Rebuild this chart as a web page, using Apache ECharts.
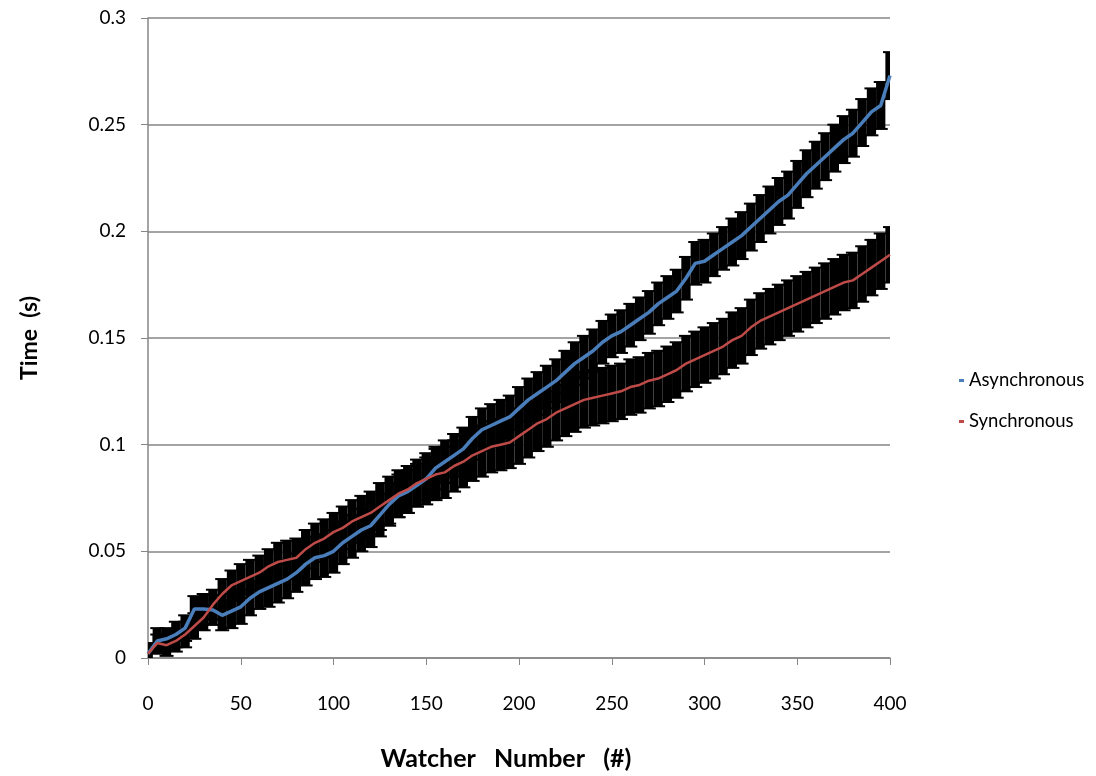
<!DOCTYPE html>
<html>
<head>
<meta charset="utf-8">
<script src="https://cdn.jsdelivr.net/npm/echarts@6/dist/echarts.min.js"></script>
<style>
  html, body { margin: 0; padding: 0; background: #fff; }
  #chart { width: 1096px; height: 776px; }
</style>
</head>
<body>
<div id="chart"></div>
<script>
// watcher numbers (x)
var watchers = [0, 5, 10, 15, 20, 25, 30, 35, 40, 45, 50, 55, 60, 65, 70, 75, 80, 85, 90, 95,
  100, 105, 110, 115, 120, 125, 130, 135, 140, 145, 150, 155, 160, 165, 170, 175, 180, 185, 190, 195,
  200, 205, 210, 215, 220, 225, 230, 235, 240, 245, 250, 255, 260, 265, 270, 275, 280, 285, 290, 295,
  300, 305, 310, 315, 320, 325, 330, 335, 340, 345, 350, 355, 360, 365, 370, 375, 380, 385, 390, 395, 400];

// Asynchronous mean time (s)
var asyncTime = [0.002, 0.008, 0.009, 0.011, 0.014, 0.023, 0.023, 0.0225, 0.020, 0.022,
  0.024, 0.028, 0.031, 0.033, 0.035, 0.037, 0.040, 0.044, 0.047, 0.048,
  0.050, 0.054, 0.057, 0.060, 0.062, 0.067, 0.072, 0.076, 0.078, 0.081,
  0.084, 0.089, 0.092, 0.095, 0.098, 0.103, 0.107, 0.109, 0.111, 0.113,
  0.117, 0.121, 0.124, 0.127, 0.130, 0.134, 0.138, 0.141, 0.144, 0.148,
  0.151, 0.153, 0.156, 0.159, 0.162, 0.166, 0.169, 0.172, 0.178, 0.185,
  0.186, 0.189, 0.192, 0.195, 0.198, 0.202, 0.206, 0.210, 0.214, 0.217,
  0.222, 0.227, 0.231, 0.235, 0.239, 0.243, 0.246, 0.251, 0.256, 0.259, 0.273];

// Asynchronous error (s)
var asyncErr = [0.005, 0.006, 0.005, 0.006, 0.006, 0.006, 0.007, 0.007, 0.007, 0.008,
  0.008, 0.008, 0.008, 0.009, 0.009, 0.009, 0.009, 0.010, 0.010, 0.010,
  0.010, 0.010, 0.010, 0.010, 0.010, 0.010, 0.010, 0.010, 0.010, 0.010,
  0.010, 0.010, 0.010, 0.010, 0.010, 0.010, 0.010, 0.010, 0.010, 0.010,
  0.010, 0.010, 0.010, 0.010, 0.010, 0.010, 0.010, 0.010, 0.010, 0.010,
  0.010, 0.010, 0.010, 0.010, 0.010, 0.010, 0.010, 0.010, 0.010, 0.010,
  0.010, 0.010, 0.010, 0.011, 0.011, 0.011, 0.011, 0.011, 0.011, 0.011,
  0.011, 0.011, 0.011, 0.011, 0.011, 0.011, 0.011, 0.011, 0.011, 0.011, 0.011];

// Synchronous mean time (s)
var syncTime = [0.002, 0.007, 0.006, 0.008, 0.011, 0.015, 0.019, 0.025, 0.030, 0.034,
  0.036, 0.038, 0.040, 0.043, 0.045, 0.046, 0.047, 0.051, 0.054, 0.056,
  0.059, 0.061, 0.064, 0.066, 0.068, 0.071, 0.074, 0.077, 0.079, 0.082,
  0.084, 0.086, 0.087, 0.090, 0.092, 0.095, 0.097, 0.099, 0.100, 0.101,
  0.104, 0.107, 0.110, 0.112, 0.115, 0.117, 0.119, 0.121, 0.122, 0.123,
  0.124, 0.125, 0.127, 0.128, 0.130, 0.131, 0.133, 0.135, 0.138, 0.140,
  0.142, 0.144, 0.146, 0.149, 0.151, 0.155, 0.158, 0.160, 0.162, 0.164,
  0.166, 0.168, 0.170, 0.172, 0.174, 0.176, 0.177, 0.180, 0.183, 0.186, 0.189];

// Synchronous error (s)
var syncErr = [0.004, 0.004, 0.005, 0.005, 0.006, 0.006, 0.006, 0.007, 0.007, 0.007,
  0.008, 0.008, 0.008, 0.008, 0.009, 0.009, 0.009, 0.009, 0.009, 0.009,
  0.009, 0.010, 0.010, 0.010, 0.010, 0.011, 0.011, 0.011, 0.011, 0.011,
  0.012, 0.012, 0.012, 0.012, 0.012, 0.012, 0.012, 0.012, 0.012, 0.012,
  0.013, 0.013, 0.013, 0.013, 0.013, 0.013, 0.013, 0.013, 0.013, 0.013,
  0.013, 0.013, 0.013, 0.013, 0.013, 0.013, 0.013, 0.013, 0.013, 0.013,
  0.013, 0.013, 0.013, 0.013, 0.013, 0.013, 0.013, 0.013, 0.013, 0.013,
  0.013, 0.013, 0.013, 0.013, 0.013, 0.013, 0.013, 0.013, 0.013, 0.013, 0.013];

var step = 5;

function pairs(ys) {
  return watchers.map(function (x, i) { return [x, ys[i]]; });
}
function errRows(ys, es) {
  return watchers.map(function (x, i) { return [x, ys[i] - es[i], ys[i] + es[i]]; });
}

// error bar: black block plus ragged caps
function renderErr(params, api) {
  var x = api.value(0);
  var lo = api.coord([x, api.value(1)]);
  var hi = api.coord([x, api.value(2)]);
  var w = api.size([step, 0])[0];
  var cap = 7;
  var st = { stroke: '#000', lineWidth: 2 };
  return {
    type: 'group',
    children: [
      { type: 'rect', shape: { x: hi[0] - w / 2, y: hi[1], width: w, height: lo[1] - hi[1] },
        style: { fill: '#000' } },
      { type: 'line', shape: { x1: hi[0] - cap, y1: hi[1], x2: hi[0] + cap, y2: hi[1] }, style: st },
      { type: 'line', shape: { x1: lo[0] - cap, y1: lo[1], x2: lo[0] + cap, y2: lo[1] }, style: st }
    ]
  };
}

var chart = echarts.init(document.getElementById('chart'));
var font = 'Lato, "Open Sans", sans-serif';

var option = {
  animation: false,
  textStyle: { fontFamily: font },
  grid: { left: 148, right: 206, top: 18, bottom: 116 },
  legend: {
    orient: 'vertical',
    left: 954,
    top: 366,
    itemGap: 22,
    itemWidth: 5,
    itemHeight: 3,
    icon: 'rect',
    textStyle: { fontSize: 18.5, color: '#000', fontFamily: font },
    data: ['Asynchronous', 'Synchronous']
  },
  xAxis: {
    type: 'value',
    min: 0, max: 400, interval: 50,
    name: 'Watcher   Number   (#)',
    nameLocation: 'middle',
    nameGap: 88,
    nameTextStyle: { fontSize: 25, fontWeight: 'bold', color: '#000', padding: [0, 26, 0, 0] },
    axisLine: { lineStyle: { color: '#868686', width: 1.5 } },
    axisTick: { length: 7, lineStyle: { color: '#868686' } },
    axisLabel: { fontSize: 19, color: '#000', margin: 36 },
    splitLine: { show: false }
  },
  yAxis: {
    type: 'value',
    min: 0, max: 0.3, interval: 0.05,
    name: 'Time  (s)',
    nameLocation: 'middle',
    nameGap: 107,
    nameTextStyle: { fontSize: 23, fontWeight: 'bold', color: '#000' },
    axisLine: { show: true, lineStyle: { color: '#868686', width: 1.5 } },
    axisTick: { show: true, length: 7, lineStyle: { color: '#868686' } },
    axisLabel: { fontSize: 19, color: '#000', margin: 22 },
    splitLine: { lineStyle: { color: '#868686', width: 1.5 } }
  },
  series: [
    {
      name: 'AsyncErr', type: 'custom', renderItem: renderErr, clip: true, z: 1,
      encode: { x: 0, y: [1, 2] }, data: errRows(asyncTime, asyncErr)
    },
    {
      name: 'SyncErr', type: 'custom', renderItem: renderErr, clip: true, z: 1,
      encode: { x: 0, y: [1, 2] }, data: errRows(syncTime, syncErr)
    },
    {
      name: 'Asynchronous', type: 'line', z: 3, symbol: 'none',
      itemStyle: { color: '#4a7ebb' },
      lineStyle: { color: '#4a7ebb', width: 3.5 },
      data: pairs(asyncTime)
    },
    {
      name: 'Synchronous', type: 'line', z: 4, symbol: 'none',
      itemStyle: { color: '#be4b48' },
      lineStyle: { color: '#be4b48', width: 2.5 },
      data: pairs(syncTime)
    }
  ]
};

chart.setOption(option);
</script>
</body>
</html>
